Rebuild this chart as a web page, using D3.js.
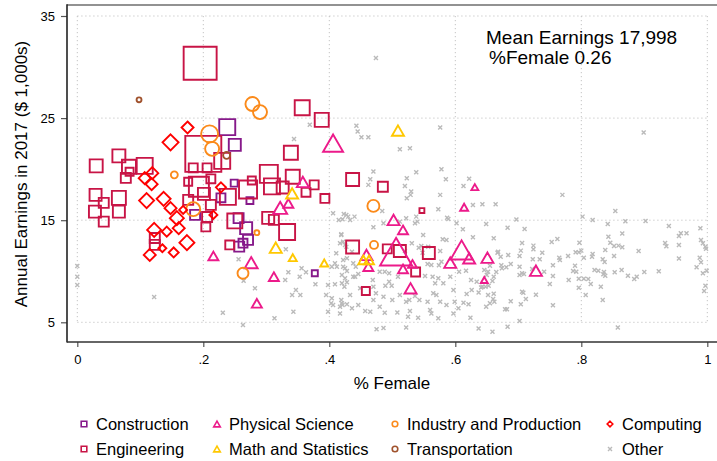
<!DOCTYPE html>
<html>
<head>
<meta charset="utf-8">
<script src="https://cdn.jsdelivr.net/npm/d3@7"></script>
<style>
  html, body { margin: 0; padding: 0; background: #fff; }
  svg { display: block; font-family: "Liberation Sans", Arial, Helvetica, sans-serif; }
</style>
</head>
<body>
<svg id="chart" width="717" height="461"></svg>
<script>
// Each occupation: [share female, mean annual earnings ($1,000s), workers (thousands)]
const construction = [
  [.238,24.12,64],[.250,22.38,36],[.249,18.63,12],[.228,17.19,20],[.274,16.92,12],[.187,15.52,25],
  [.256,15.20,25],[.268,14.22,36],[.271,13.07,25],[.263,12.75,20],[.257,12.41,25],[.377,9.80,9]
];
const engineering = [
  [.195,30.37,272],[.357,26.01,56],[.388,24.83,49],[.200,21.50,324],[.230,20.81,64],[.339,21.60,49],
  [.030,20.32,42],[.066,21.30,42],[.082,20.23,49],[.083,19.74,16],[.077,19.15,25],[.107,20.32,64],
  [.184,20.13,20],[.206,20.13,20],[.176,18.76,16],[.193,18.27,100],[.212,19.05,20],[.304,19.54,81],
  [.342,19.25,49],[.376,18.46,20],[.363,17.73,20],[.393,17.13,20],[.437,18.99,42],[.277,18.89,16],
  [.271,18.01,81],[.309,18.31,64],[.326,18.21,36],[.029,17.48,36],[.028,15.84,36],[.042,16.70,25],
  [.066,17.19,49],[.066,15.84,36],[.042,14.86,25],[.123,13.26,25],[.123,12.58,25],[.176,16.99,25],
  [.201,17.58,36],[.212,16.50,25],[.206,15.32,25],[.204,14.34,20],[.239,17.28,64],[.250,14.93,56],
  [.242,12.58,20],[.303,15.23,36],[.312,15.03,25],[.333,13.85,64],[.437,12.38,42],[.485,18.27,25],
  [.547,15.94,6],[.492,12.19,20],[.512,11.99,36],[.558,11.79,36],[.537,9.93,20],[.458,8.07,16]
];
const physicalScience = [
  [.406,22.55,100],[.358,18.75,36],[.322,16.21,49],[.335,16.65,25],[.216,11.50,25],[.276,10.84,42],
  [.312,9.47,25],[.285,6.86,25],[.502,15.03,36],[.517,14.05,25],[.631,18.24,12],[.614,16.27,16],
  [.506,11.92,256],[.459,11.60,36],[.462,10.45,25],[.517,10.23,25],[.532,10.72,20],[.529,8.33,36],
  [.610,12.09,121],[.592,10.84,36],[.622,11.27,36],[.651,11.33,36],[.646,9.15,12],[.728,10.06,36]
];
const mathStatistics = [
  [.509,23.78,36],[.341,17.63,36],[.315,12.31,36],[.342,11.33,16],[.392,10.81,16],[.454,11.11,25],[.463,11.11,25]
];
const industryProduction = [
  [.278,26.38,49],[.290,25.59,49],[.210,23.46,72],[.214,21.99,49],[.154,19.44,12],[.184,16.08,49],
  [.285,13.78,6],[.263,9.80,30],[.470,16.40,36],[.471,12.58,16]
];
const transportation = [[.098,26.79,6],[.237,21.35,12]];
const computing = [
  [.175,24.08,36],[.148,22.63,64],[.119,19.61,36],[.107,19.12,36],[.118,18.53,36],[.110,16.92,56],
  [.137,17.09,49],[.148,16.18,36],[.158,15.20,49],[.122,14.05,49],[.142,13.88,25],[.161,14.22,36],
  [.174,12.80,56],[.153,11.84,25],[.115,11.60,36],[.135,12.25,16],[.216,15.52,16],[.228,18.22,25],
  [.168,16.01,16]
];
// All remaining occupations: [share female, mean annual earnings ($1,000s)]
const other = [
  [0,10.52],[0,9.47],[0,8.66],[.122,7.48],[.231,5.94],[.256,11.18],[.264,9.08],[.282,8.33],[.263,4.74],
  [.313,5.39],[.331,12.16],[.330,9.15],[.335,9.90],[.341,7.68],[.343,6.04],[.347,8.17],[.353,9.47],
  [.354,7.68],[.356,10.29],[.363,9.90],[.378,8.72],[.395,7.68],[.398,6.04],[.398,8.66],[.403,6.86],
  [.404,7.35],[.406,6.70],[.409,8.72],[.404,10.45],[.412,10.45],[.409,10.78],[.411,11.76],[.417,12.74],
  [.419,13.56],[.406,15.69],[.415,15.03],[.423,15.60],[.427,15.52],[.433,15.03],[.369,24.34],[.344,22.96],
  [.474,30.88],[.436,11.92],[.438,9.47],[.425,10.29],[.425,12.58],[.428,11.27],[.420,9.64],[.420,6.86],
  [.613,18.36],[.622,19.05],[.428,8.92],[.422,10.45],
  [.443,24.24],[.445,23.69],[.451,23.13],[.462,23.13],[.512,21.95],[.528,22.05],[.576,24.08],[.470,19.76],
  [.523,19.11],[.538,19.70],[.578,19.99],[.585,19.01],[.465,19.01],[.462,18.46],[.520,18.36],[.530,17.80],
  [.529,17.48],[.523,17.15],[.576,17.48],[.484,15.91],[.573,16.07],[.628,16.50],[.440,15.35],[.421,15.09],
  [.430,15.35],[.470,14.31],[.486,14.70],[.512,14.86],[.522,15.19],[.538,15.35],[.540,14.86],[.536,14.70],
  [.587,15.25],[.589,15.12],[.602,14.70],[.612,14.11],[.628,13.33],[.580,13.13],[.586,13.07],[.549,13.56],
  [.546,12.48],[.557,12.41],[.531,12.74],[.542,12.31],[.520,11.99],[.576,11.99],[.548,11.82],[.556,10.71],
  [.562,10.61],[.578,10.94],[.574,10.58],[.606,9.96],[.617,10.06],[.625,9.14],[.634,8.98],[.652,9.96],
  [.650,9.63],[.419,13.62],[.422,12.90],[.427,12.41],[.422,11.10],[.438,10.78],[.442,10.45],[.428,10.03],
  [.446,9.73],[.480,9.96],[.488,9.96],[.495,9.80],[.495,8.98],[.489,8.59],[.499,8.59],[.509,9.47],
  [.552,9.54],[.564,9.47],[.573,9.31],[.592,9.47],[.568,8.82],[.581,8.82],[.597,8.16],[.618,7.77],
  [.626,8.16],[.637,7.93],[.652,7.67],[.420,8.82],[.425,9.31],[.441,9.47],[.469,9.14],[.470,8.49],
  [.474,7.84],[.470,7.18],[.486,7.51],[.500,7.18],[.512,7.67],[.522,7.02],[.527,7.18],[.536,7.57],
  [.543,7.18],[.556,7.02],[.565,7.84],[.570,7.67],[.576,7.02],[.586,6.69],[.599,7.02],[.613,6.92],
  [.621,6.76],[.528,6.10],[.508,5.97],[.488,5.94],[.480,6.53],[.465,6.04],[.457,6.10],[.446,6.69],
  [.436,6.37],[.428,6.76],[.421,6.69],[.419,7.18],[.433,7.67],[.449,8.33],[.560,6.20],[.562,5.87],
  [.573,5.39],[.541,5.45],[.525,5.55],[.522,4.50],[.486,4.44],[.475,4.31],[.624,5.45],[.637,4.40],
  [.597,5.87],[.605,6.37],[.424,8.49],[.417,6.53],[.417,5.87],
  [.899,23.59],[.770,17.48],[.643,16.56],[.664,16.56],[.854,15.91],[.649,14.63],[.697,15.06],[.710,14.14],
  [.683,14.27],[.802,15.35],[.818,15.03],[.842,14.63],[.870,14.89],[.902,14.93],[.939,14.44],[.958,13.72],
  [.967,13.72],[.989,14.21],[.661,13.23],[.762,13.16],[.753,12.87],[.706,12.77],[.724,12.51],[.724,12.15],
  [.738,11.82],[.668,11.92],[.667,11.82],[.704,12.02],[.684,11.59],[.672,11.43],[.702,11.50],[.723,11.17],
  [.734,11.17],[.765,11.33],[.766,11.10],[.779,11.50],[.797,12.80],[.791,11.86],[.796,11.86],[.800,12.02],
  [.804,11.33],[.817,11.43],[.818,11.69],[.843,13.39],[.838,12.08],[.846,12.80],[.852,12.48],[.859,12.51],
  [.865,13.69],[.865,12.35],[.852,11.50],[.834,11.17],[.837,10.91],[.891,11.99],[.933,12.77],[.935,12.44],
  [.955,13.46],[.955,12.58],[.955,11.24],[.990,13.07],[.993,12.74],[.997,12.41],[.988,11.33],[.998,12.20],
  [.983,10.39],[.990,10.88],[.993,9.80],[.999,10.06],[.997,8.59],[.995,8.07],[.655,10.55],[.673,10.58],
  [.681,10.39],[.674,10.29],[.688,10.71],[.702,10.45],[.665,9.93],[.646,10.12],[.661,9.47],[.659,9.05],
  [.653,8.59],[.648,8.49],[.643,8.49],[.641,8.40],[.702,9.63],[.706,9.80],[.709,9.73],[.755,10.58],
  [.755,9.54],[.741,9.96],[.722,10.22],[.790,10.55],[.792,9.96],[.787,10.03],[.780,9.14],[.796,9.27],
  [.804,9.27],[.811,9.24],[.796,8.39],[.807,7.67],[.815,8.75],[.821,10.12],[.827,10.06],[.836,9.93],
  [.835,9.70],[.838,9.57],[.853,9.90],[.864,10.12],[.874,9.57],[.884,9.24],[.888,9.47],[.900,9.93],
  [.923,9.99],[.831,8.49],[.834,7.18],[.750,8.75],[.706,8.00],[.708,7.90],[.712,7.28],[.728,7.71],
  [.704,6.76],[.755,6.66],[.688,7.05],[.661,7.80],[.660,7.28],[.662,7.02],[.655,6.86],[.649,6.53],
  [.682,6.27],[.679,6.27],[.702,5.12],[.683,4.57],[.659,4.08],[.858,4.50]
];

const xTicks = [0, .2, .4, .6, .8, 1];
const yTicks = [5, 15, 25, 35];
const meanEarnings = 17998;
const meanFemale = 0.26;

const series = [
  { name: "Construction",            data: construction,       shape: "square",   color: "#86198a" },
  { name: "Engineering",             data: engineering,        shape: "square",   color: "#c81446" },
  { name: "Physical Science",        data: physicalScience,    shape: "triangle", color: "#ec1a8a" },
  { name: "Math and Statistics",     data: mathStatistics,     shape: "triangle", color: "#ffc800" },
  { name: "Industry and Production", data: industryProduction, shape: "circle",   color: "#fb8a1a" },
  { name: "Transportation",          data: transportation,     shape: "circle",   color: "#a0522d" },
  { name: "Computing",               data: computing,          shape: "diamond",  color: "#ff0000" },
  { name: "Other",                   data: other,              shape: "x",        color: "#bababa" }
];

const svg = d3.select("#chart");
const frame = { left: 67, right: 717, top: 5, bottom: 342 };
const x = d3.scaleLinear().domain([0, 1]).range([77.3, 707.3]);
const y = d3.scaleLinear().domain([5, 35]).range([322.3, 16]);
const size = d3.scaleSqrt().domain([0, 324]).range([0, 18]);

function shapePath(shape, h) {
  switch (shape) {
    case "square":   return `M${-h},${-h}H${h}V${h}H${-h}Z`;
    case "triangle": { const v = h * 0.866; return `M0,${-v}L${h},${v}L${-h},${v}Z`; }
    case "diamond":  return `M0,${-h}L${h},0L0,${h}L${-h},0Z`;
    case "circle":   return `M${h},0A${h},${h} 0 1,1 ${-h},0A${h},${h} 0 1,1 ${h},0Z`;
    case "x":        return `M${-h},${-h}L${h},${h}M${-h},${h}L${h},${-h}`;
  }
}

// dotted grid
const grid = svg.append("g").attr("stroke", "#c4c4c4").attr("stroke-width", 1).attr("stroke-dasharray", "1.2,2.8");
grid.selectAll(".gx").data(xTicks).join("line")
  .attr("x1", d => x(d)).attr("x2", d => x(d)).attr("y1", y(35)).attr("y2", y(5));
grid.selectAll(".gy").data(yTicks).join("line")
  .attr("y1", d => y(d)).attr("y2", d => y(d)).attr("x1", x(0)).attr("x2", x(1));

// axes
const yAxis = svg.append("g").attr("transform", `translate(${frame.left},0)`)
  .call(d3.axisLeft(y).tickValues(yTicks).tickSize(6).tickPadding(6).tickFormat(d3.format("d")));
const xAxis = svg.append("g").attr("transform", `translate(0,${frame.bottom})`)
  .call(d3.axisBottom(x).tickValues(xTicks).tickSize(5).tickPadding(8)
    .tickFormat(d => d === 0 ? "0" : d === 1 ? "1" : d3.format(".1f")(d).replace(/^0/, "")));
[yAxis, xAxis].forEach(a => {
  a.select(".domain").remove();
  a.selectAll(".tick line").attr("stroke", "#555").attr("stroke-width", 1.2);
  a.selectAll(".tick text").attr("font-size", 13).attr("fill", "#000")
    .attr("font-family", '"Liberation Sans", Arial, sans-serif');
});

svg.append("line").attr("x1", frame.left).attr("x2", frame.right).attr("y1", frame.top).attr("y2", frame.top)
  .attr("stroke", "#6e6e6e").attr("stroke-width", 1.6);
svg.append("line").attr("x1", frame.left).attr("x2", frame.left).attr("y1", frame.top - 0.8).attr("y2", frame.bottom + 0.6)
  .attr("stroke", "#222").attr("stroke-width", 1.6);
svg.append("line").attr("x1", frame.left).attr("x2", frame.right).attr("y1", frame.bottom).attr("y2", frame.bottom)
  .attr("stroke", "#333").attr("stroke-width", 1.6);

// axis titles
svg.append("text").attr("transform", "translate(27,174) rotate(-90)").attr("text-anchor", "middle")
  .attr("font-size", 17).text("Annual Earnings in 2017 ($ 1,000s)");
svg.append("text").attr("x", 392).attr("y", 388.5).attr("text-anchor", "middle")
  .attr("font-size", 17).text("% Female");

// markers: grey background occupations first, then the highlighted fields
const drawOrder = [series[7], ...series.slice(0, 7)];
drawOrder.forEach(s => {
  const g = svg.append("g").attr("fill", "none").attr("stroke", s.color);
  if (s.shape === "x") {
    g.attr("stroke-width", 1.4).selectAll("path").data(s.data).join("path")
      .attr("transform", d => `translate(${x(d[0])},${y(d[1])})`)
      .attr("d", shapePath("x", 2));
  } else {
    g.attr("stroke-width", 1.9).attr("stroke-linejoin", "miter").selectAll("path").data(s.data).join("path")
      .attr("transform", d => `translate(${x(d[0])},${y(d[1])})`)
      .attr("d", d => shapePath(s.shape, size(d[2])));
  }
});

// summary annotation
const ann = svg.append("g").attr("font-size", 19).attr("fill", "#000");
ann.append("text").attr("x", 486).attr("y", 43.5).text(`Mean Earnings ${d3.format(",")(meanEarnings)}`);
ann.append("text").attr("x", 489).attr("y", 64).text(`%Female ${d3.format(".2f")(meanFemale)}`);

// legend, filled column by column
const legendCols = [84, 217, 395, 610];
const legendRows = [424, 449];
const legend = svg.append("g");
series.forEach((s, i) => {
  const col = Math.floor(i / 2), row = i % 2;
  const lx = legendCols[col], ly = legendRows[row];
  legend.append("path").attr("transform", `translate(${lx},${ly})`)
    .attr("d", shapePath(s.shape, s.shape === "x" ? 2 : s.shape === "triangle" ? 3.3 : 2.8))
    .attr("fill", "none").attr("stroke", s.color).attr("stroke-width", s.shape === "x" ? 1.4 : 1.6);
  legend.append("text").attr("x", lx + 12).attr("y", ly).attr("dy", "0.36em")
    .attr("font-size", 16.5).text(s.name);
});
</script>
</body>
</html>
